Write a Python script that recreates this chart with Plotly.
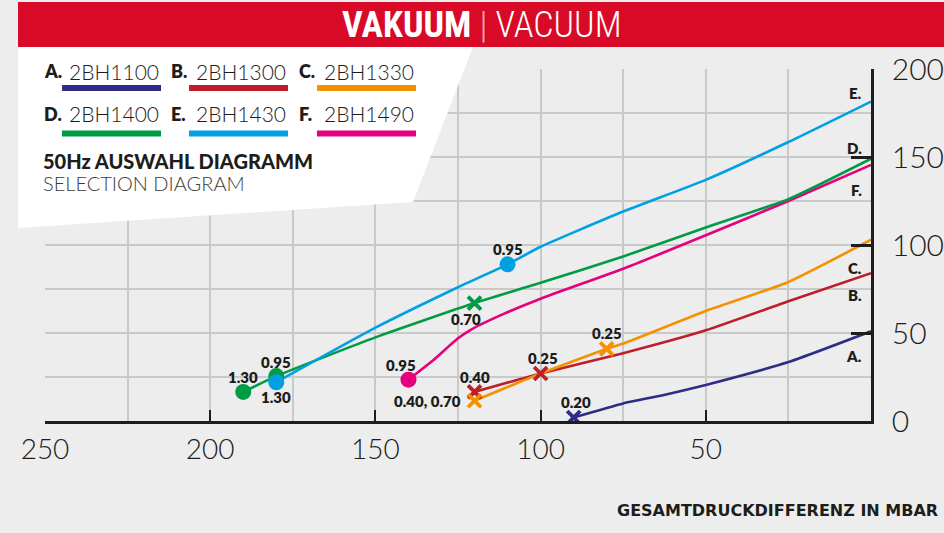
import plotly.graph_objects as go

# ---------------- data ----------------
series_names = ["A.", "B.", "C.", "D.", "E.", "F."]
series_models = ["2BH1100", "2BH1300", "2BH1330", "2BH1400", "2BH1430", "2BH1490"]

A_x = [90, 75, 62, 50, 25, 0]
A_y = [2, 10, 15, 20.5, 33.5, 51]
B_x = [120, 100, 75, 50, 25, 0]
B_y = [16.5, 27, 38.5, 51.5, 68, 84]
C_x = [120, 100, 80, 75, 50, 25, 0]
C_y = [11.5, 27, 41, 44, 62.5, 79, 103]
D_x = [190, 180, 150, 120, 100, 75, 50, 25, 0]
D_y = [16.5, 25.5, 47.5, 67, 78.5, 93.5, 110, 126, 149]
E_x = [180, 150, 125, 110, 100, 75, 50, 25, 0]
E_y = [22, 53, 76, 89, 99, 119, 137, 158.5, 181.5]
F_x = [140, 132.5, 125, 120.5, 111, 100, 75, 50, 25, 0]
F_y = [23.5, 34.5, 47, 52.5, 61, 69.5, 86.5, 105.5, 125, 145.5]

# marked operating points: (series, point index, marker kind, label)
marked_points = [
    ("A", 0, "x", "0.20"),
    ("B", 0, "x", "0.40"),
    ("B", 1, "x", "0.25"),
    ("C", 0, "x", "0.40, 0.70"),
    ("C", 2, "x", "0.25"),
    ("D", 0, "o", "1.30"),
    ("D", 1, "o", "0.95"),
    ("D", 3, "x", "0.70"),
    ("E", 0, "o", "1.30"),
    ("E", 3, "o", "0.95"),
    ("F", 0, "o", "0.95"),
]

x_ticks = [250, 200, 150, 100, 50]
y_ticks = [0, 50, 100, 150, 200]
x_grid = [225, 200, 175, 150, 125, 100, 75, 50, 25]
y_grid = [25, 50, 75, 100, 125, 150, 175]

title_de = "VAKUUM"
title_en = "VACUUM"
subtitle_de = "50Hz AUSWAHL DIAGRAMM"
subtitle_en = "SELECTION DIAGRAM"
x_title = "GESAMTDRUCKDIFFERENZ IN MBAR"

# ---------------- style ----------------
colors = {"A": "#2E2C84", "B": "#C01D2B", "C": "#F39200",
          "D": "#009B45", "E": "#00A0E3", "F": "#E6007E"}
data = {"A": (A_x, A_y), "B": (B_x, B_y), "C": (C_x, C_y),
        "D": (D_x, D_y), "E": (E_x, E_y), "F": (F_x, F_y)}
# label offsets (pixels) per marked point, same order as marked_points
label_offsets = [(2, 15, "center"), (0, 15, "center"), (2, 15, "center"),
                 (-12, 0, "right"), (0, 16, "center"),
                 (0, 15, "center"), (0, 14, "center"), (-9, -16, "center"),
                 (0, -15, "center"), (0, 15, "center"), (-7, 15, "center")]
end_label_y = {"A": 356, "B": 295, "C": 268, "D": 148, "E": 93, "F": 190}

W, H = 944, 533
ML, MR, MT, MB = 45, 73, 69, 112
PW, PH = W - ML - MR, H - MT - MB


def fx(px):
    return (px - ML) / PW


def fy(py):
    return (H - MB - py) / PH


BG = "#EDEDED"
GRID = "#C9C9C9"
INK = "#1D1D1B"
FONT = "Lato, Open Sans, sans-serif"
LIGHT = "Lato Light, Lato, sans-serif"

fig = go.Figure()

for key in ["A", "B", "C", "F", "D", "E"]:
    xs, ys = data[key]
    fig.add_trace(go.Scatter(x=xs, y=ys, mode="lines",
                             line=dict(color=colors[key], width=2.6, shape="spline",
                                       smoothing=0.5),
                             hoverinfo="skip", showlegend=False))

annotations = []
for (key, idx, kind, label), (dx, dy, anchor) in zip(marked_points, label_offsets):
    xs, ys = data[key]
    if kind == "x":
        marker = dict(symbol="x-thin", size=13, color=colors[key],
                      line=dict(color=colors[key], width=3.8))
    else:
        marker = dict(symbol="circle", size=16, color=colors[key], line=dict(width=0))
    fig.add_trace(go.Scatter(x=[xs[idx]], y=[ys[idx]], mode="markers",
                             marker=marker, hoverinfo="skip", showlegend=False))
    annotations.append(dict(x=xs[idx], y=ys[idx], xref="x", yref="y", text=label,
                            showarrow=False, xshift=dx, yshift=dy, xanchor=anchor,
                            yanchor="middle",
                            font=dict(family=FONT, size=15, color=INK, weight=800)))

# end-of-curve letters
for key in series_names:
    k = key[0]
    annotations.append(dict(x=fx(864), y=fy(end_label_y[k]), xref="paper", yref="paper",
                            text=key, showarrow=False, xanchor="right", yanchor="middle",
                            font=dict(family=FONT, size=15, color=INK, weight=800)))

shapes = []
# header band
shapes.append(dict(type="rect", xref="paper", yref="paper", x0=fx(18), x1=fx(944),
                   y0=fy(47), y1=fy(2), fillcolor="#D80A27", line=dict(width=0),
                   layer="above"))
# white legend panel
pts = [(18, 47), (473, 47), (413, 202), (18, 228)]
path = "M " + " L ".join(f"{fx(a):.5f},{fy(b):.5f}" for a, b in pts) + " Z"
shapes.append(dict(type="path", xref="paper", yref="paper", path=path,
                   fillcolor="white", line=dict(width=0), layer="above"))

annotations.append(dict(x=fx(482), y=fy(25), xref="paper", yref="paper", showarrow=False,
                        xanchor="center", yanchor="middle",
                        text=f"<b>{title_de}</b> <span style='color:#F2A1AB'>|</span> {title_en}",
                        font=dict(family="Roboto Condensed, Roboto, sans-serif", size=36,
                                  color="white", weight=300)))

# legend
col_x = [42, 169, 297]
row_text_y = [71, 114]
row_line_y = [88, 133.5]
for i, key in enumerate(series_names):
    r, c = divmod(i, 3)
    k = key[0]
    x0 = col_x[c]
    annotations.append(dict(x=fx(x0), y=fy(row_text_y[r]), xref="paper", yref="paper",
                            text=key, showarrow=False, xanchor="left", yanchor="middle",
                            font=dict(family=FONT, size=18, color=INK, weight=800)))
    annotations.append(dict(x=fx(x0 + 25), y=fy(row_text_y[r]), xref="paper", yref="paper",
                            text=series_models[i], showarrow=False, xanchor="left",
                            yanchor="middle",
                            font=dict(family=LIGHT, size=21, color=INK, weight=300)))
    shapes.append(dict(type="line", xref="paper", yref="paper",
                       x0=fx(x0 + 20), x1=fx(x0 + 119), y0=fy(row_line_y[r]),
                       y1=fy(row_line_y[r]), line=dict(color=colors[k], width=6),
                       layer="above"))

annotations.append(dict(x=fx(41), y=fy(161), xref="paper", yref="paper", text=subtitle_de,
                        showarrow=False, xanchor="left", yanchor="middle",
                        font=dict(family=FONT, size=20, color=INK, weight=900)))
annotations.append(dict(x=fx(41), y=fy(183), xref="paper", yref="paper", text=subtitle_en,
                        showarrow=False, xanchor="left", yanchor="middle",
                        font=dict(family=LIGHT, size=20, color="#3C3C3B", weight=300)))
annotations.append(dict(x=fx(940), y=fy(510), xref="paper", yref="paper", text=x_title,
                        showarrow=False, xanchor="right", yanchor="middle",
                        font=dict(family="DejaVu Sans, sans-serif", size=16, color=INK,
                                  weight=700)))

fig.update_layout(
    width=W, height=H, autosize=False,
    margin=dict(l=ML, r=MR, t=MT, b=MB, pad=0, autoexpand=False),
    paper_bgcolor=BG, plot_bgcolor=BG,
    showlegend=False,
    shapes=shapes, annotations=annotations,
    xaxis=dict(range=[250, 0], tickvals=x_ticks, ticks="inside", ticklen=11, tickwidth=2,
               tickcolor=INK, showline=True, linecolor=INK, linewidth=2.5,
               showgrid=False, zeroline=False, ticklabelstandoff=2, automargin=False,
               tickfont=dict(family=LIGHT, size=28, color=INK, weight=300),
               minor=dict(tickvals=x_grid, showgrid=True, gridcolor=GRID, gridwidth=1.5,
                          ticks="")),
    yaxis=dict(range=[0, 200], side="right", tickvals=y_ticks, ticks="inside", ticklen=20,
               tickwidth=2.5, tickcolor=INK, showline=True, linecolor=INK, linewidth=2.5,
               showgrid=False, zeroline=False, ticklabelstandoff=12, automargin=False,
               tickfont=dict(family=LIGHT, size=30, color=INK, weight=300),
               minor=dict(tickvals=y_grid, showgrid=True, gridcolor=GRID, gridwidth=1.5,
                          ticks="")),
)

fig.write_html("out.html", config={"displayModeBar": False},
               post_script="document.body.style.margin='0px';document.body.style.overflow='hidden';")
